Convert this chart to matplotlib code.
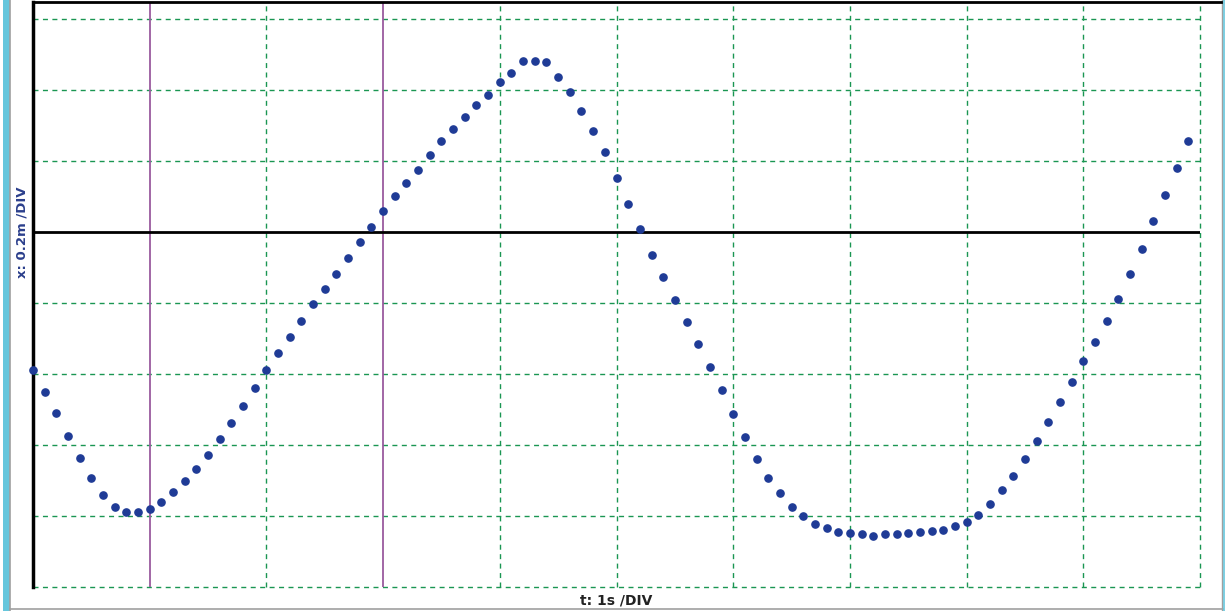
import matplotlib
matplotlib.use("Agg")
import matplotlib.pyplot as plt
from matplotlib.lines import Line2D
from matplotlib.patches import Rectangle

# time (s)
t_s = [0.0, 0.1, 0.2, 0.3, 0.4, 0.5, 0.6, 0.7, 0.8, 0.9,
       1.0, 1.1, 1.2, 1.3, 1.4, 1.5, 1.6, 1.7, 1.8, 1.9,
       2.0, 2.1, 2.2, 2.3, 2.4, 2.5, 2.6, 2.7, 2.8, 2.9,
       3.0, 3.1, 3.2, 3.3, 3.4, 3.5, 3.6, 3.7, 3.8, 3.9,
       4.0, 4.1, 4.2, 4.3, 4.4, 4.5, 4.6, 4.7, 4.8, 4.9,
       5.0, 5.1, 5.2, 5.3, 5.4, 5.5, 5.6, 5.7, 5.8, 5.9,
       6.0, 6.1, 6.2, 6.3, 6.4, 6.5, 6.6, 6.7, 6.8, 6.9,
       7.0, 7.1, 7.2, 7.3, 7.4, 7.5, 7.6, 7.7, 7.8, 7.9,
       8.0, 8.1, 8.2, 8.3, 8.4, 8.5, 8.6, 8.7, 8.8, 8.9,
       9.0, 9.1, 9.2, 9.3, 9.4, 9.5, 9.6, 9.7, 9.8, 9.9]

# position x (m)
x_m = [-0.388, -0.450, -0.510, -0.574, -0.638, -0.694, -0.742, -0.776, -0.788, -0.788,
       -0.780, -0.760, -0.732, -0.702, -0.668, -0.628, -0.584, -0.538, -0.490, -0.440,
       -0.388, -0.342, -0.296, -0.252, -0.204, -0.162, -0.120, -0.074, -0.030, 0.014,
       0.058, 0.100, 0.138, 0.174, 0.216, 0.256, 0.290, 0.324, 0.356, 0.386,
       0.422, 0.448, 0.482, 0.482, 0.478, 0.436, 0.394, 0.340, 0.284, 0.226,
       0.152, 0.078, 0.008, -0.064, -0.128, -0.192, -0.254, -0.316, -0.380, -0.444,
       -0.512, -0.578, -0.640, -0.694, -0.736, -0.774, -0.800, -0.822, -0.834, -0.844,
       -0.848, -0.852, -0.856, -0.852, -0.852, -0.848, -0.846, -0.842, -0.840, -0.828,
       -0.816, -0.796, -0.766, -0.728, -0.688, -0.640, -0.590, -0.536, -0.478, -0.422,
       -0.364, -0.310, -0.250, -0.190, -0.118, -0.048, 0.030, 0.104, 0.180, 0.256]

green_grid_t = [2, 4, 5, 6, 7, 8, 9, 10]
purple_cursor_t = [1, 3]
grid_x_m = [0.6, 0.4, 0.2, -0.2, -0.4, -0.6, -0.8, -1.0]

W, H = 1225, 611
fig = plt.figure(figsize=(W / 100, H / 100), dpi=100)
fig.patch.set_facecolor("white")

def fx(px):
    return px / W

def fy(py):
    return 1 - py / H

ax = fig.add_axes([fx(33), fy(587), (1200 - 33) / W, (587 - 2) / H])
ax.set_xlim(0, 10)
ax.set_ylim(-1.0, 0.647)
ax.set_facecolor("white")
for s in ax.spines.values():
    s.set_visible(False)
ax.set_xticks([])
ax.set_yticks([])

grid_green = "#1a9652"
dash = (0, (3.6, 3.2))
for v in grid_x_m:
    ax.axhline(v, color=grid_green, lw=1.0, ls=dash, clip_on=False, zorder=1)
for v in green_grid_t:
    ax.axvline(v, color=grid_green, lw=1.0, ls=dash, clip_on=False, zorder=1)
for v in purple_cursor_t:
    ax.axvline(v, color="#9a5a9e", lw=1.3, zorder=2)

ax.axhline(0, color="black", lw=2.0, zorder=3)
ax.axvline(0, color="black", lw=2.5, clip_on=False, zorder=3)

ax.plot(t_s, x_m, ls="none", marker="o", ms=5.2, color="#1f3b96", mec="#1f3b96",
        clip_on=False, zorder=5)

# frame decorations
fig.add_artist(Rectangle((fx(3), 0), (6.5) / W, 1, transform=fig.transFigure,
                         color="#66c6dc", lw=0))
fig.add_artist(Line2D([fx(10.3), fx(10.3)], [0, 1], color="#a0a0a0", lw=1.2))
fig.add_artist(Line2D([fx(10), fx(1223)], [fy(608.5), fy(608.5)], color="#a0a0a0", lw=1.2))
fig.add_artist(Line2D([fx(1222), fx(1222)], [0, 1], color="#a0a0a0", lw=1.0))
fig.add_artist(Line2D([fx(1223.5), fx(1223.5)], [0, 1], color="#66c6dc", lw=1.2))
fig.add_artist(Line2D([fx(33), fx(1221)], [fy(2), fy(2)], color="black", lw=2.0))

fig.text(fx(22), fy(232), "x: 0.2m /DIV", rotation=90, ha="center", va="center",
         fontsize=9.5, fontweight="bold", color="#2b3f8c")
fig.text(fx(616), fy(600), "t: 1s /DIV", ha="center", va="center",
         fontsize=10, fontweight="bold", color="#222222")

fig.savefig("out.png", dpi=100, facecolor="white")
